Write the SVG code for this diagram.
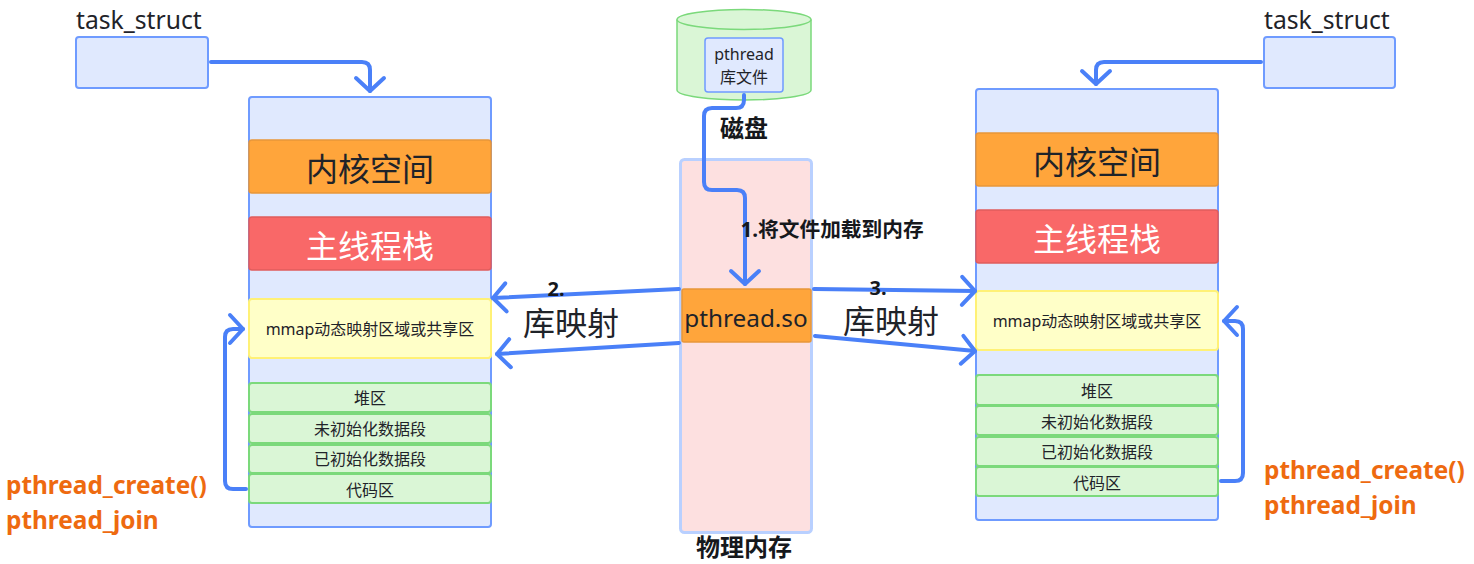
<svg xmlns="http://www.w3.org/2000/svg" width="1474" height="564" viewBox="0 0 1474 564">
<style>
text{font-family:"Noto Sans","Noto Sans CJK SC",sans-serif;fill:#1f2329;text-anchor:middle}
.blue{fill:#e0e9fe;stroke:#6f9bff;stroke-width:2}
.orange{fill:#ffa53b;stroke:#e8963a;stroke-width:1.5}
.red{fill:#f96868;stroke:#e05c5c;stroke-width:1.5}
.yellow{fill:#ffffc8;stroke:#fff176;stroke-width:2}
.green{fill:#daf6d6;stroke:#7bd97b;stroke-width:2}
.phys{fill:#fde0e0;stroke:#b9d0ff;stroke-width:3}
.lg{font-size:32px}
.md{font-size:16px}
.sm{font-size:16px}
.task{font-size:24.700px;text-anchor:start}
.b{font-weight:700;fill:#16181c}
.fn{font-size:24.400px;font-weight:700;fill:#ee6a10;text-anchor:start}
.c{fill:none;stroke:#4a80f8;stroke-width:4;stroke-linecap:round;stroke-linejoin:round;marker-end:url(#a)}
</style>
<defs>
<marker id="a" markerUnits="userSpaceOnUse" markerWidth="32" markerHeight="40" refX="16" refY="20" orient="auto" overflow="visible">
<path d="M3 6L16 20L3 34" fill="none" stroke="#4a80f8" stroke-width="4" stroke-linecap="round" stroke-linejoin="round"/>
</marker>
</defs>
<rect width="1474" height="564" fill="#fff"/>
<g id="task-left"><rect class="blue" x="76" y="37" width="132" height="51" rx="3"/><text class="task" x="76" y="29">task_struct</text></g>
<g id="task-right"><rect class="blue" x="1264" y="37" width="131" height="51" rx="3"/><text class="task" x="1264" y="29">task_struct</text></g>
<g id="stack-left">
<rect class="blue" x="249" y="97" width="242" height="430" rx="3"/>
<g id="kernel-left"><rect class="orange" x="249" y="140" width="242" height="53" rx="3"/><text class="lg" x="370" y="181">内核空间</text></g>
<g id="main-left"><rect class="red" x="249" y="217" width="242" height="53" rx="3"/><text class="lg" x="370" y="258" style="fill:#fff">主线程栈</text></g>
<g id="mmap-left"><rect class="yellow" x="249" y="299" width="242" height="59" rx="3"/><text class="md" x="370" y="335">mmap动态映射区域或共享区</text></g>
<g id="heap-left"><rect class="green" x="249" y="383" width="242" height="29" rx="3"/><text class="sm" x="370" y="404">堆区</text></g>
<g id="bss-left"><rect class="green" x="249" y="414" width="242" height="29" rx="3"/><text class="sm" x="370" y="435">未初始化数据段</text></g>
<g id="data-left"><rect class="green" x="249" y="445" width="242" height="28" rx="3"/><text class="sm" x="370" y="465">已初始化数据段</text></g>
<g id="code-left"><rect class="green" x="249" y="474" width="242" height="29" rx="3"/><text class="sm" x="370" y="496">代码区</text></g>
</g>
<g id="stack-right">
<rect class="blue" x="976" y="89" width="242" height="431" rx="3"/>
<g id="kernel-right"><rect class="orange" x="976" y="133" width="242" height="53" rx="3"/><text class="lg" x="1097" y="174">内核空间</text></g>
<g id="main-right"><rect class="red" x="976" y="210" width="242" height="53" rx="3"/><text class="lg" x="1097" y="251" style="fill:#fff">主线程栈</text></g>
<g id="mmap-right"><rect class="yellow" x="976" y="291" width="242" height="59" rx="3"/><text class="md" x="1097" y="327">mmap动态映射区域或共享区</text></g>
<g id="heap-right"><rect class="green" x="976" y="375" width="242" height="30" rx="3"/><text class="sm" x="1097" y="397">堆区</text></g>
<g id="bss-right"><rect class="green" x="976" y="406" width="242" height="29" rx="3"/><text class="sm" x="1097" y="428">未初始化数据段</text></g>
<g id="data-right"><rect class="green" x="976" y="437" width="242" height="29" rx="3"/><text class="sm" x="1097" y="458">已初始化数据段</text></g>
<g id="code-right"><rect class="green" x="976" y="467" width="242" height="29" rx="3"/><text class="sm" x="1097" y="489">代码区</text></g>
</g>
<g id="disk">
<path class="green" style="stroke-width:1.5" d="M677 19.500V90C677 96 710 100 744 100S811 96 811 90V19.500"/>
<ellipse class="green" style="stroke-width:1.5" cx="744" cy="19.500" rx="67" ry="10"/>
<g id="lib-file"><rect class="blue" style="stroke-width:1.5" x="705" y="38" width="78" height="54" rx="3"/><text class="sm" x="744" y="60">pthread</text><text class="sm" x="744" y="83">库文件</text></g>
<text class="b" x="744" y="137" style="font-size:24px">磁盘</text>
</g>
<g id="physical-memory">
<rect class="phys" x="680.500" y="159.500" width="131" height="373" rx="4"/>
<g id="pthread-so"><rect class="orange" x="682" y="289" width="129" height="53" rx="2"/><text x="746" y="327" style="font-size:24.300px">pthread.so</text></g>
<text class="b" x="744" y="556" style="font-size:24px">物理内存</text>
</g>
<g id="connectors">
<path class="c" d="M211 62H362Q370 62 370 70V91"/>
<path class="c" d="M1261 62H1104Q1096 62 1096 70V84"/>
<path class="c" d="M744 95V100Q744 108 736 108H712Q704 108 704 116V182Q704 190 712 190H737Q745 190 745 198V284"/>
<path class="c" d="M679 289L493 298"/>
<path class="c" d="M679 343L497 354"/>
<path class="c" d="M814 289L975 291"/>
<path class="c" d="M815 336L975 351"/>
<path class="c" d="M246 489H233Q225 489 225 481V337Q225 329 233 329H243"/>
<path class="c" d="M1221 481H1235Q1243 481 1243 473V329Q1243 321 1235 321H1224"/>
</g>
<g id="labels">
<text class="b" x="832" y="237" style="font-size:20.700px">1.将文件加载到内存</text>
<text class="b" x="556" y="296" style="font-size:20px">2.</text>
<text class="b" x="878" y="295" style="font-size:20px">3.</text>
<text class="lg" x="571" y="335">库映射</text>
<text class="lg" x="891" y="333">库映射</text>
<text class="fn" x="6" y="494">pthread_create()</text>
<text class="fn" x="6" y="529">pthread_join</text>
<text class="fn" x="1264" y="479">pthread_create()</text>
<text class="fn" x="1264" y="514">pthread_join</text>
</g>
</svg>
